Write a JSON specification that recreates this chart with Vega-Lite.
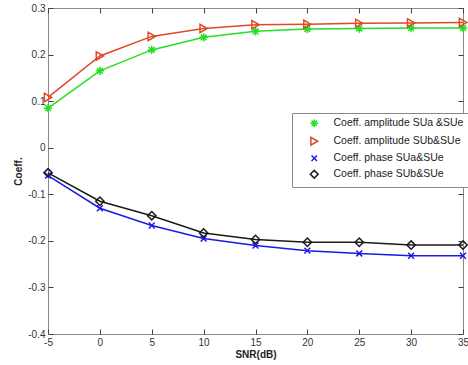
{
  "$schema": "https://vega.github.io/schema/vega-lite/v6.json",
  "width": 415,
  "height": 326,
  "autosize": {"type": "none"},
  "padding": {"left": 48, "top": 8, "right": 5, "bottom": 31},
  "background": "white",
  "config": {
    "font": "Liberation Sans",
    "view": {"stroke": "#8a8a8a", "strokeWidth": 1},
    "axis": {
      "grid": false,
      "domain": false,
      "ticks": true,
      "tickColor": "#444",
      "tickWidth": 1,
      "tickSize": -5,
      "labelColor": "#333",
      "labelFontSize": 10,
      "labelFont": "Liberation Sans",
      "titleFont": "Liberation Sans",
      "titleFontSize": 10,
      "titleFontWeight": "bold",
      "titleColor": "#222"
    },
    "legend": {"labelFont": "Liberation Sans"}
  },
  "data": {
    "values": [
      {"snr": -5, "s": "Coeff. amplitude SUa &SUe", "v": 0.085},
      {"snr": 0, "s": "Coeff. amplitude SUa &SUe", "v": 0.165},
      {"snr": 5, "s": "Coeff. amplitude SUa &SUe", "v": 0.21},
      {"snr": 10, "s": "Coeff. amplitude SUa &SUe", "v": 0.237},
      {"snr": 15, "s": "Coeff. amplitude SUa &SUe", "v": 0.25},
      {"snr": 20, "s": "Coeff. amplitude SUa &SUe", "v": 0.255},
      {"snr": 25, "s": "Coeff. amplitude SUa &SUe", "v": 0.256},
      {"snr": 30, "s": "Coeff. amplitude SUa &SUe", "v": 0.257},
      {"snr": 35, "s": "Coeff. amplitude SUa &SUe", "v": 0.257},
      {"snr": -5, "s": "Coeff. amplitude SUb&SUe", "v": 0.108},
      {"snr": 0, "s": "Coeff. amplitude SUb&SUe", "v": 0.197},
      {"snr": 5, "s": "Coeff. amplitude SUb&SUe", "v": 0.239},
      {"snr": 10, "s": "Coeff. amplitude SUb&SUe", "v": 0.256},
      {"snr": 15, "s": "Coeff. amplitude SUb&SUe", "v": 0.264},
      {"snr": 20, "s": "Coeff. amplitude SUb&SUe", "v": 0.265},
      {"snr": 25, "s": "Coeff. amplitude SUb&SUe", "v": 0.267},
      {"snr": 30, "s": "Coeff. amplitude SUb&SUe", "v": 0.268},
      {"snr": 35, "s": "Coeff. amplitude SUb&SUe", "v": 0.269},
      {"snr": -5, "s": "Coeff. phase SUa&SUe", "v": -0.06},
      {"snr": 0, "s": "Coeff. phase SUa&SUe", "v": -0.13},
      {"snr": 5, "s": "Coeff. phase SUa&SUe", "v": -0.167},
      {"snr": 10, "s": "Coeff. phase SUa&SUe", "v": -0.195},
      {"snr": 15, "s": "Coeff. phase SUa&SUe", "v": -0.21},
      {"snr": 20, "s": "Coeff. phase SUa&SUe", "v": -0.221},
      {"snr": 25, "s": "Coeff. phase SUa&SUe", "v": -0.227},
      {"snr": 30, "s": "Coeff. phase SUa&SUe", "v": -0.232},
      {"snr": 35, "s": "Coeff. phase SUa&SUe", "v": -0.232},
      {"snr": -5, "s": "Coeff. phase SUb&SUe", "v": -0.054},
      {"snr": 0, "s": "Coeff. phase SUb&SUe", "v": -0.115},
      {"snr": 5, "s": "Coeff. phase SUb&SUe", "v": -0.146},
      {"snr": 10, "s": "Coeff. phase SUb&SUe", "v": -0.183},
      {"snr": 15, "s": "Coeff. phase SUb&SUe", "v": -0.197},
      {"snr": 20, "s": "Coeff. phase SUb&SUe", "v": -0.203},
      {"snr": 25, "s": "Coeff. phase SUb&SUe", "v": -0.203},
      {"snr": 30, "s": "Coeff. phase SUb&SUe", "v": -0.209},
      {"snr": 35, "s": "Coeff. phase SUb&SUe", "v": -0.209}
    ]
  },
  "resolve": {"axis": {"x": "independent", "y": "independent"}},
  "layer": [
    {
      "mark": {"type": "line", "strokeWidth": 1.5},
      "encoding": {
        "x": {
          "field": "snr", "type": "quantitative",
          "scale": {"domain": [-5, 35], "nice": false, "zero": false},
          "axis": {"values": [-5, 0, 5, 10, 15, 20, 25, 30, 35], "title": "SNR(dB)", "labelExpr": "replace(format(datum.value, 'd'), '\u2212', '-')", "labelPadding": 8, "titlePadding": 2, "labelFlush": false}
        },
        "y": {
          "field": "v", "type": "quantitative",
          "scale": {"domain": [-0.4, 0.3], "nice": false, "zero": false},
          "axis": {"values": [-0.4, -0.3, -0.2, -0.1, 0, 0.1, 0.2, 0.3], "title": "Coeff.", "labelExpr": "replace(format(datum.value, '.1~f'), '\u2212', '-')", "labelPadding": 8, "titlePadding": 4}
        },
        "color": {
          "field": "s", "type": "nominal",
          "scale": {
            "domain": ["Coeff. amplitude SUa &SUe", "Coeff. amplitude SUb&SUe", "Coeff. phase SUa&SUe", "Coeff. phase SUb&SUe"],
            "range": ["#22e022", "#e0482a", "#1a1ae8", "#1a1a1a"]
          },
          "legend": {
            "title": null,
            "orient": "none",
            "legendX": 244,
            "legendY": 105,
            "strokeColor": "#888",
            "fillColor": "white",
            "padding": 5,
            "labelFontSize": 10.5,
            "labelColor": "#222",
            "symbolSize": 60,
            "symbolStrokeWidth": 1.5,
            "symbolOffset": 12,
            "labelOffset": 14,
            "rowPadding": 3,
            "labelLimit": 300,
            "encode": {
              "symbols": {
                "update": {
                  "shape": {"value": {"expr": "datum.value == 'Coeff. amplitude SUa &SUe' ? 'M-3.3,0L3.3,0M-1,0L1,0M0,-1L0,1M-0.7,-0.7L0.7,0.7M-0.7,0.7L0.7,-0.7' : datum.value == 'Coeff. amplitude SUb&SUe' ? 'M-3.3,0L-0.8,0M1,0L3.3,0M-0.8,-1L1,0L-0.8,1Z' : datum.value == 'Coeff. phase SUa&SUe' ? 'M-3.3,0L3.3,0M-0.7,-0.7L0.7,0.7M-0.7,0.7L0.7,-0.7' : 'M-3.3,0L-0.6,0M0.6,0L3.3,0M0,-1.1L0.6,0L0,1.1L-0.6,0Z'"}}
                }
              }
            }
          }
        },
        "detail": {"field": "s"}
      }
    },
    {
      "mark": {"type": "point", "filled": false, "strokeWidth": 1.5, "opacity": 1, "size": 70},
      "encoding": {
        "x": {"field": "snr", "type": "quantitative", "axis": null},
        "y": {"field": "v", "type": "quantitative", "axis": null},
        "color": {"field": "s", "type": "nominal"},
        "shape": {
          "field": "s", "type": "nominal",
          "scale": {
            "domain": ["Coeff. amplitude SUa &SUe", "Coeff. amplitude SUb&SUe", "Coeff. phase SUa&SUe", "Coeff. phase SUb&SUe"],
            "range": ["M-1,0L1,0M0,-1L0,1M-0.7,-0.7L0.7,0.7M-0.7,0.7L0.7,-0.7", "triangle-right", "M-0.7,-0.7L0.7,0.7M-0.7,0.7L0.7,-0.7", "diamond"]
          },
          "legend": null
        }
      }
    },
    {
      "mark": {"type": "line", "opacity": 0},
      "encoding": {
        "x": {"field": "snr", "type": "quantitative", "axis": {"orient": "top", "values": [-5, 0, 5, 10, 15, 20, 25, 30, 35], "labels": false, "title": null}},
        "y": {"field": "v", "type": "quantitative", "axis": {"orient": "right", "values": [-0.4, -0.3, -0.2, -0.1, 0, 0.1, 0.2, 0.3], "labels": false, "title": null}},
        "detail": {"field": "s"}
      }
    }
  ]
}
